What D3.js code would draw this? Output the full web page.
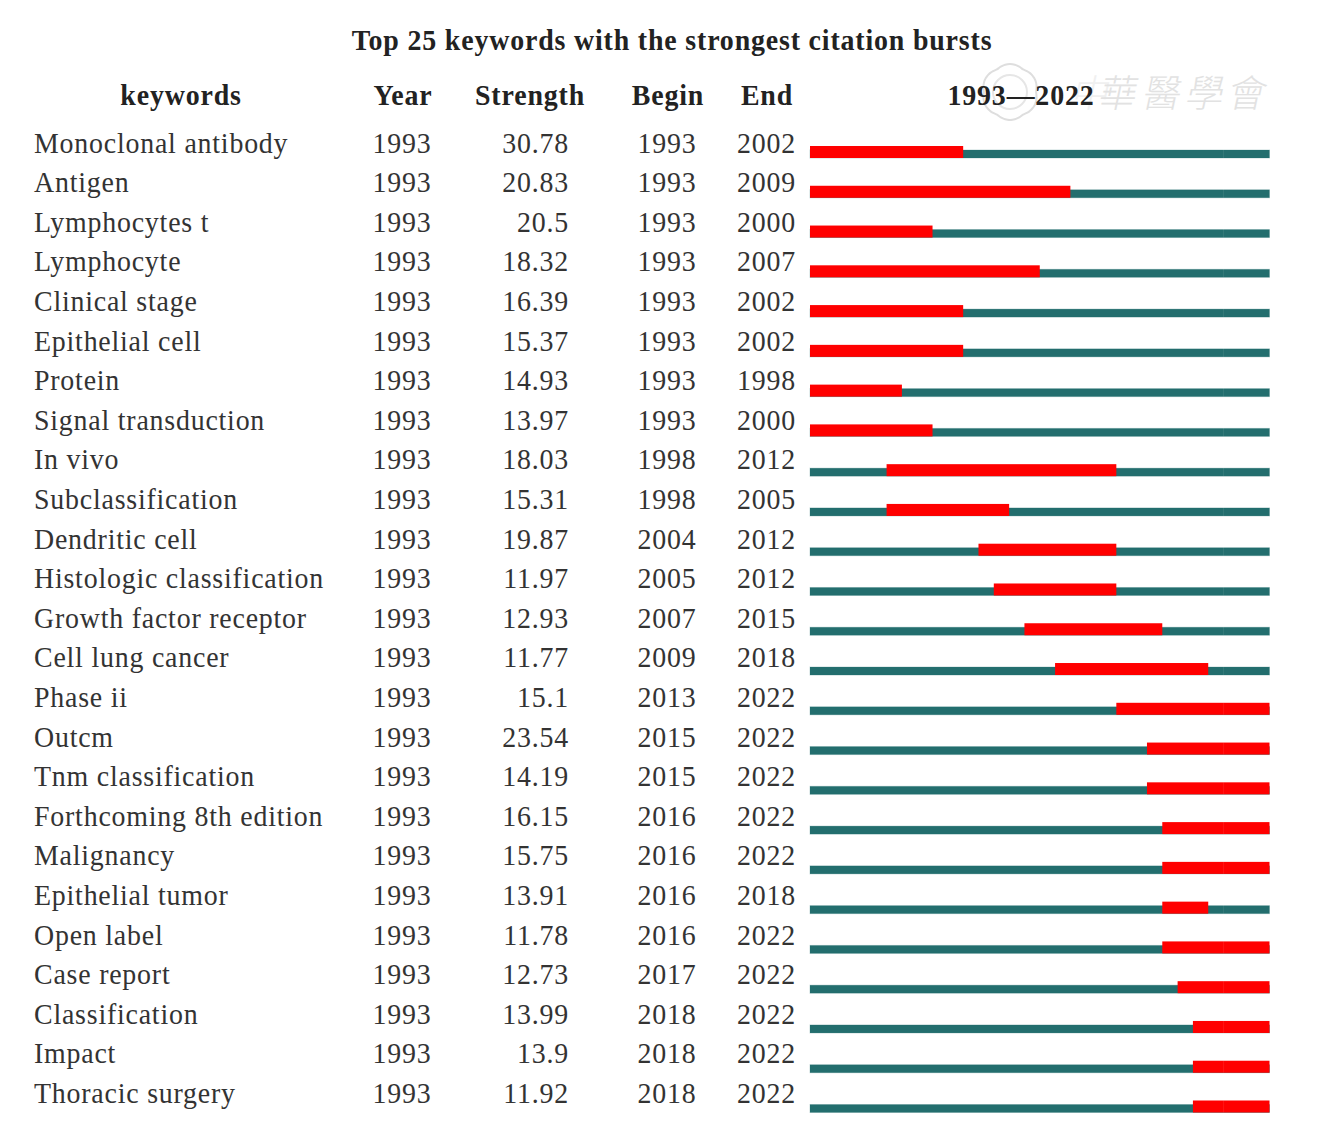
<!DOCTYPE html>
<html>
<head>
<meta charset="utf-8">
<script src="https://d3js.org/d3.v7.min.js"></script>
<style>
  html, body { margin: 0; padding: 0; background: #fff; }
  svg { display: block; }
  text { font-family: "Liberation Serif", serif; fill: #222; }
  .head { font-weight: bold; font-size: 30px; letter-spacing: 0.9px; }
  .cell { font-size: 30px; letter-spacing: 0.85px; fill: #333; }
</style>
</head>
<body>
<script>
// values
var keywords = ["Monoclonal antibody","Antigen","Lymphocytes t","Lymphocyte","Clinical stage","Epithelial cell","Protein","Signal transduction","In vivo","Subclassification","Dendritic cell","Histologic classification","Growth factor receptor","Cell lung cancer","Phase ii","Outcm","Tnm classification","Forthcoming 8th edition","Malignancy","Epithelial tumor","Open label","Case report","Classification","Impact","Thoracic surgery"];
var strength = ["30.78","20.83","20.5","18.32","16.39","15.37","14.93","13.97","18.03","15.31","19.87","11.97","12.93","11.77","15.1","23.54","14.19","16.15","15.75","13.91","11.78","12.73","13.99","13.9","11.92"];
var begin = [1993,1993,1993,1993,1993,1993,1993,1993,1998,1998,2004,2005,2007,2009,2013,2015,2015,2016,2016,2016,2016,2017,2018,2018,2018];
var end = [2002,2009,2000,2007,2002,2002,1998,2000,2012,2005,2012,2012,2015,2018,2022,2022,2022,2022,2022,2018,2022,2022,2022,2022,2022];
var firstYear = 1993, lastYear = 2022;
var watermarkChars = [["中",1070],["華",1097],["醫",1141],["學",1184],["會",1226]];

var width = 1321, height = 1135;
var squeeze = 0.93; // the type in the picture is a bit condensed
var svg = d3.select("body").append("svg").attr("width", width).attr("height", height);

var x = d3.scaleLinear().domain([firstYear, lastYear + 1]).range([810, 1269.5]);
// bottom edge of each bar
var y = d3.scaleLinear().domain([0, keywords.length - 1]).range([158, 1112.5]);
// text baselines run on a slightly tighter pitch than the bars
var yText = d3.scaleLinear().domain([0, keywords.length - 1]).range([152.5, 1103]);

function place(tx, ty) { return "translate(" + tx + "," + ty + ") scale(" + squeeze + ",1)"; }

// watermark goes under everything
var mark = svg.append("g").attr("class", "watermark");
var seal = d3.lineRadial().curve(d3.curveBasisClosed)
  .angle(function(d){ return d * Math.PI / 36; })
  .radius(function(d){ return 26 + 2 * Math.abs(Math.cos(d * Math.PI / 12)); });
mark.append("path").attr("transform", "translate(1010,92)").attr("d", seal(d3.range(72)))
  .attr("fill", "none").attr("stroke", "#dedede").attr("stroke-width", 2);
mark.append("circle").attr("cx", 1010).attr("cy", 92).attr("r", 17)
  .attr("fill", "none").attr("stroke", "#e6e6e6").attr("stroke-width", 2);
mark.selectAll(".wm").data(watermarkChars).enter().append("text").attr("class", "wm")
  .attr("transform", function(d){ return "translate(" + d[1] + ",107) skewX(-12)"; })
  .text(function(d){ return d[0]; })
  .style("font-family", "'Noto Sans CJK TC'").style("font-weight", 300).style("font-size", "38px")
  .style("fill", function(d,i){ return i ? "#e2e2e2" : "#f0f0f0"; });

svg.append("text").attr("class", "head").attr("transform", place(672, 49.5))
  .attr("text-anchor", "middle").text("Top 25 keywords with the strongest citation bursts");

var headers = [["keywords",181],["Year",403],["Strength",530],["Begin",668],["End",767],[firstYear + "—" + lastYear,1021]];
svg.selectAll(".colhead").data(headers).enter().append("text")
  .attr("class", "head").attr("transform", function(d){ return place(d[1], 104.5); })
  .attr("text-anchor", "middle").text(function(d){ return d[0]; });

var rows = svg.selectAll(".row").data(keywords).enter().append("g").attr("class", "row");

rows.append("text").attr("class", "cell").attr("transform", function(d,i){ return place(34, yText(i)); }).text(function(d){ return d; });
rows.append("text").attr("class", "cell").attr("transform", function(d,i){ return place(372.5, yText(i)); }).text(firstYear);
rows.append("text").attr("class", "cell").attr("text-anchor", "end").attr("transform", function(d,i){ return place(569, yText(i)); }).text(function(d,i){ return strength[i]; });
rows.append("text").attr("class", "cell").attr("transform", function(d,i){ return place(637.5, yText(i)); }).text(function(d,i){ return begin[i]; });
rows.append("text").attr("class", "cell").attr("transform", function(d,i){ return place(737, yText(i)); }).text(function(d,i){ return end[i]; });

// full period bar
rows.append("rect").attr("x", x(firstYear)).attr("width", x(lastYear + 1) - x(firstYear))
  .attr("y", function(d,i){ return y(i) - 8; }).attr("height", 8).attr("fill", "#236e6e")
  .attr("stroke", "#236e6e").attr("stroke-opacity", 0.25).attr("stroke-width", 1);
// burst
rows.append("rect").attr("x", function(d,i){ return x(begin[i]); })
  .attr("width", function(d,i){ return x(end[i] + 1) - x(begin[i]); })
  .attr("y", function(d,i){ return y(i) - 12; }).attr("height", 12).attr("fill", "#ff0000");
// faint seam left in the bars
rows.append("line").attr("x1", x(2020)).attr("x2", x(2020))
  .attr("y1", function(d,i){ return y(i) - 12; }).attr("y2", function(d,i){ return y(i); })
  .attr("stroke", "#fff").attr("stroke-opacity", 0.08);
</script>
</body>
</html>
